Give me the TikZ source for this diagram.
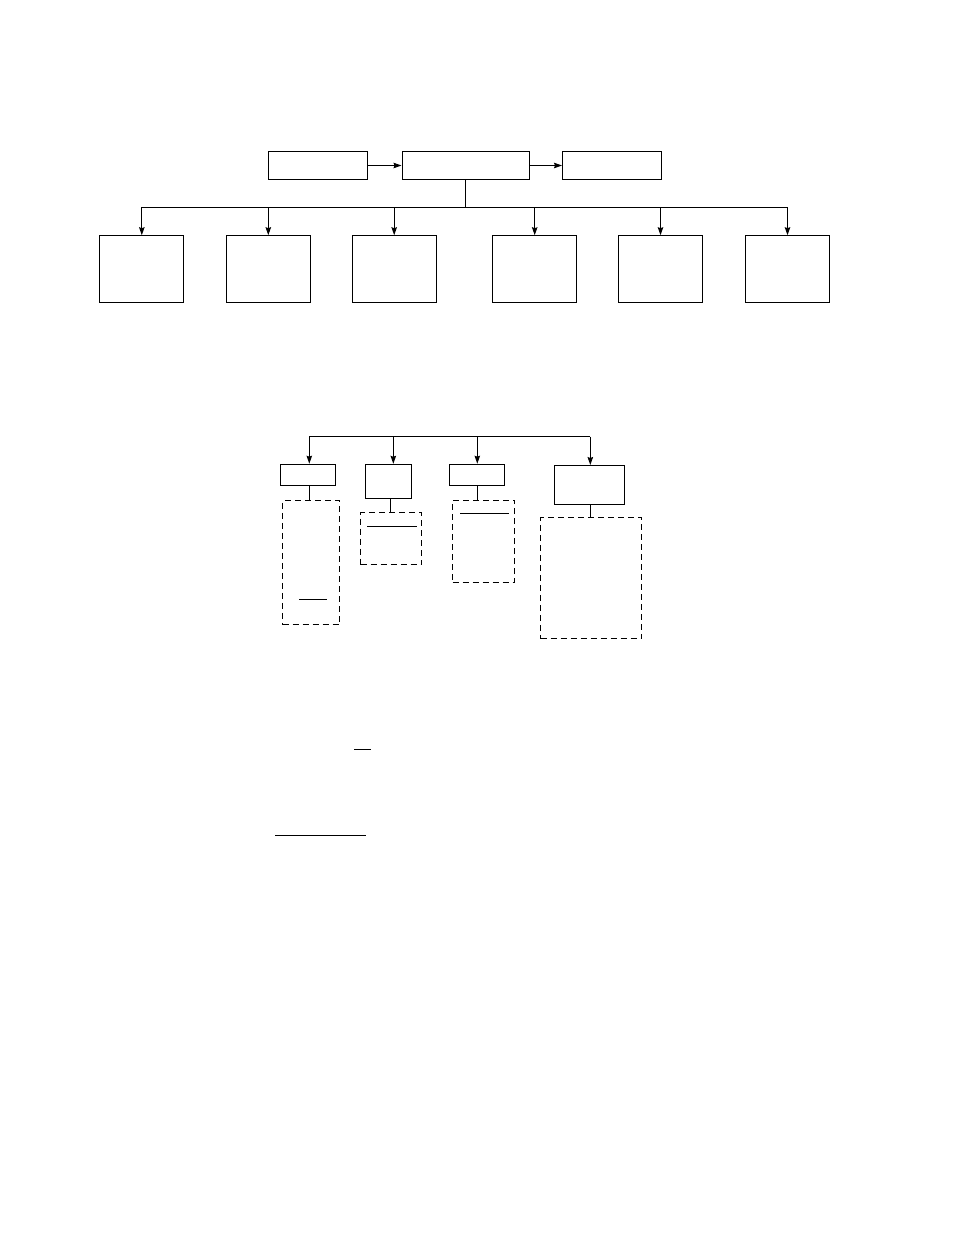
\documentclass[tikz,border=0pt]{standalone}
\usepackage{tikz}
\usetikzlibrary{arrows.meta}

\begin{document}
\begin{tikzpicture}[
            x=1pt, y=-1pt,
            blk/.style={rectangle, draw, inner sep=0pt, line width=1pt},
            grpbox/.style={rectangle, draw, inner sep=0pt, line width=1pt,
                           dash pattern=on 6pt off 4pt},
            link/.style={line width=1pt},
            arrow/.style={-{Stealth[length=8pt, width=5.5pt, inset=1pt]}, line width=1pt}
        ]
            \useasboundingbox (0,0) rectangle (954,1235);

            % Top row
            \node[blk, minimum width=99pt, minimum height=28pt] (src) at (317.5,165.5) {};
            \node[blk, minimum width=127pt, minimum height=28pt] (core) at (465.5,165.5) {};
            \node[blk, minimum width=99pt, minimum height=28pt] (sink) at (612,165.5) {};

            \draw[arrow] (src) -- (core);
            \draw[arrow] (core) -- (sink);

            % Second row of boxes
            \foreach \i/\cx in {1/141.8, 2/268.3, 3/394.2, 4/534.7, 5/660.5, 6/787.5}
                \node[blk, minimum width=84pt, minimum height=67pt] (leaf\i) at (\cx,269.2) {};

            \coordinate (busL) at (141.8,207);
            \coordinate (busR) at (787.5,207);
            \draw[link] (busL) -- (busR);
            \draw[link] (core.south) -- (core.south |- busL);
            \foreach \i in {1,...,6}
                \draw[arrow] (leaf\i.north |- busL) -- (leaf\i.north);

            % Lower tree
            \node[blk, minimum width=55pt, minimum height=21pt] (head1) at (308,474.7) {};
            \node[blk, minimum width=46pt, minimum height=34pt] (head2) at (388.5,481.3) {};
            \node[blk, minimum width=55pt, minimum height=21pt] (head3) at (476.7,474.7) {};
            \node[blk, minimum width=70pt, minimum height=39pt] (head4) at (589.3,485) {};

            \node[grpbox, minimum width=57pt, minimum height=124pt] (grp1) at (311,562.9) {};
            \node[grpbox, minimum width=61pt, minimum height=52pt] (grp2) at (391.2,538.5) {};
            \node[grpbox, minimum width=62pt, minimum height=82pt] (grp3) at (483.5,541.2) {};
            \node[grpbox, minimum width=101pt, minimum height=121pt] (grp4) at (591,578.4) {};

            \coordinate (lbusL) at (309.3,436.7);
            \coordinate (lbusR) at (590.3,436.7);
            \draw[link] (lbusL) -- (lbusR);
            \coordinate (tap1) at (309.3,436.7);
            \coordinate (tap2) at (393.3,436.7);
            \coordinate (tap3) at (477.3,436.7);
            \coordinate (tap4) at (590.3,436.7);
            \foreach \i in {1,...,4}
                \draw[arrow] (tap\i) -- (tap\i |- head\i.north);

            % Stems into the dashed groups
            \draw[link] ([xshift=1pt]head1.south) -- ([xshift=1pt]head1.south |- grp1.north);
            \draw[link] ([xshift=2pt]head2.south) -- ([xshift=2pt]head2.south |- grp2.north);
            \draw[link] ([xshift=1pt]head3.south) -- ([xshift=1pt]head3.south |- grp3.north);
            \draw[link] ([xshift=1pt]head4.south) -- ([xshift=1pt]head4.south |- grp4.north);

            % Rules inside the groups
            \draw[link] (299.3,599.3) -- (326.7,599.3);
            \draw[link] (367,526.3) -- (416.7,526.3);
            \draw[link] (460,513.3) -- (508.7,513.3);

            % Loose rules below
            \draw[link] (354.3,749.3) -- (370.7,749.3);
            \draw[link] (275,835.3) -- (365.7,835.3);
        \end{tikzpicture}
\end{document}
